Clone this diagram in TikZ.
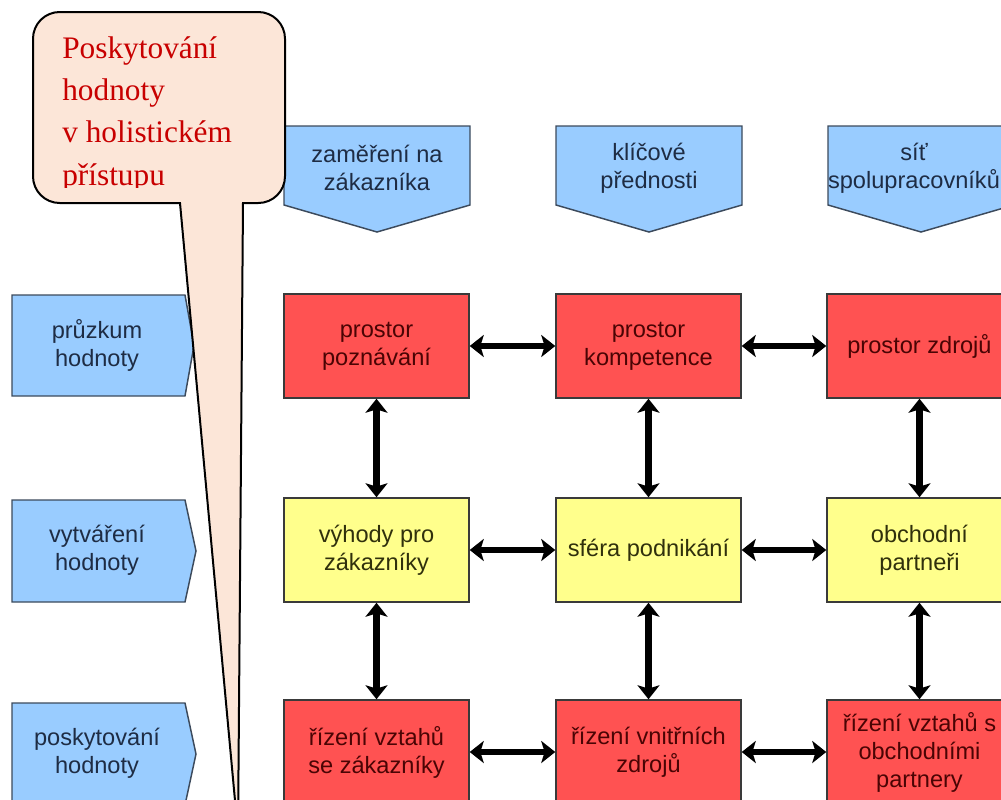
\documentclass[tikz,border=0pt]{standalone}
\usepackage{fontspec}
\setmainfont{Liberation Sans}
\newfontfamily\calloutfont{Liberation Serif}
\usetikzlibrary{arrows.meta}

\definecolor{tagblue}{HTML}{99CCFF}
\definecolor{tagedge}{HTML}{3C4A5C}
\definecolor{tagink}{HTML}{1E2C44}
\definecolor{boxred}{HTML}{FF5252}
\definecolor{boxyellow}{HTML}{FFFF8C}
\definecolor{boxedge}{HTML}{3A3A3A}
\definecolor{redink}{HTML}{4A0404}
\definecolor{yellowink}{HTML}{30300C}
\definecolor{peach}{HTML}{FCE6D8}
\definecolor{callred}{HTML}{C80000}

\begin{document}
\begin{tikzpicture}[x=0.75pt,y=-0.75pt,
  cell/.style={draw=boxedge, line width=1.1pt, minimum width=138.75pt,
    minimum height=78pt, align=center, inner sep=0pt,
    font=\fontsize{17.7}{21}\selectfont},
  redcell/.style={cell, fill=boxred, text=redink},
  yellowcell/.style={cell, fill=boxyellow, text=yellowink},
  tag/.style={fill=tagblue, draw=tagedge, line width=1.1pt, line join=miter},
  taglabel/.style={align=center, text=tagink, inner sep=0pt,
    font=\fontsize{17.7}{21}\selectfont},
  link/.style={line width=4.8pt,
    {Stealth[length=10.5pt,width=16.5pt,inset=2.5pt]}-{Stealth[length=10.5pt,width=16.5pt,inset=2.5pt]}},
  callline/.style={anchor=base west, inner sep=0pt, text=callred,
    font=\calloutfont\fontsize{23.5}{31.5}\selectfont},
  bubble/.style={fill=peach, draw=black, line width=1.5pt}
]
\useasboundingbox (0,0) rectangle (1001,800);
\clip (0,0) rectangle (1001,800);

% column headings (tags pointing down)
\path[tag] (284,126) -- (470,126) -- (470,205) -- (377,232) -- (284,205) -- cycle;
\path[tag] (556,126) -- (742,126) -- (742,205) -- (649,232) -- (556,205) -- cycle;
\path[tag] (828,126) -- (1014,126) -- (1014,205) -- (921,232) -- (828,205) -- cycle;
\node[taglabel] (hzak) at (377,168) {zaměření na\\zákazníka};
\node[taglabel] (hkli) at (649,168) {klíčové\\přednosti};
\node[taglabel] (hsit) at (914,168) {síť\\spolupracovníků};

% row headings (tags pointing right)
\path[tag] (12,295) -- (185,295) -- (194,345.5) -- (185,396) -- (12,396) -- cycle;
\path[tag] (12,500) -- (185,500) -- (196,551) -- (185,602) -- (12,602) -- cycle;
\path[tag] (12,703) -- (185,703) -- (196,754) -- (185,805) -- (12,805) -- cycle;
\node[taglabel] (vpru) at (97,345.5) {průzkum\\hodnoty};
\node[taglabel] (vvyt) at (97,550) {vytváření\\hodnoty};
\node[taglabel] (vpos) at (97,753) {poskytování\\hodnoty};

% grid of cells
\node[redcell] (pozn) at (376.5,346) {prostor\\poznávání};
\node[redcell] (komp) at (648.5,346) {prostor\\kompetence};
\node[redcell] (zdroj) at (919.5,346) {prostor zdrojů};
\node[yellowcell] (vyh) at (376.5,550) {výhody pro\\zákazníky};
\node[yellowcell] (sfera) at (648.5,550) {sféra podnikání};
\node[yellowcell] (partn) at (919.5,550) {obchodní\\partneři};
\node[redcell] (rzak) at (376.5,752) {řízení vztahů\\se zákazníky};
\node[redcell] (rzdr) at (648.5,752) {řízení vnitřních\\zdrojů};
\node[redcell] (rpart) at (919.5,752) {řízení vztahů s\\obchodními\\partnery};

% two-way links
\draw[link] (pozn) -- (komp);
\draw[link] (komp) -- (zdroj);
\draw[link] (vyh) -- (sfera);
\draw[link] (sfera) -- (partn);
\draw[link] (rzak) -- (rzdr);
\draw[link] (rzdr) -- (rpart);
\draw[link] (pozn) -- (vyh);
\draw[link] (vyh) -- (rzak);
\draw[link] (komp) -- (sfera);
\draw[link] (sfera) -- (rzdr);
\draw[link] (zdroj) -- (partn);
\draw[link] (partn) -- (rpart);

% speech bubble
\coordinate (tailL) at (180,203);
\coordinate (tailR) at (243,203);
\coordinate (tailtip) at (238,833);
\draw[bubble, rounded corners=20pt] (33,12) rectangle (285,203);
\fill[peach] (tailL) -- (tailtip) -- (tailR) -- cycle;
\fill[peach] (181.2,198) rectangle (241.8,206);
\draw[black, line width=1.5pt, line join=miter] (tailL) -- (tailtip) -- (tailR);
\begin{scope}
  \clip (33,12) rectangle (285,187);
  \node[callline] (cl1) at (62,58) {Poskytování};
  \node[callline] (cl2) at (62,100) {hodnoty};
  \node[callline] (cl3) at (62,142.5) {v holistickém};
  \node[callline] (cl4) at (62,185) {přístupu};
\end{scope}
\end{tikzpicture}
\end{document}
